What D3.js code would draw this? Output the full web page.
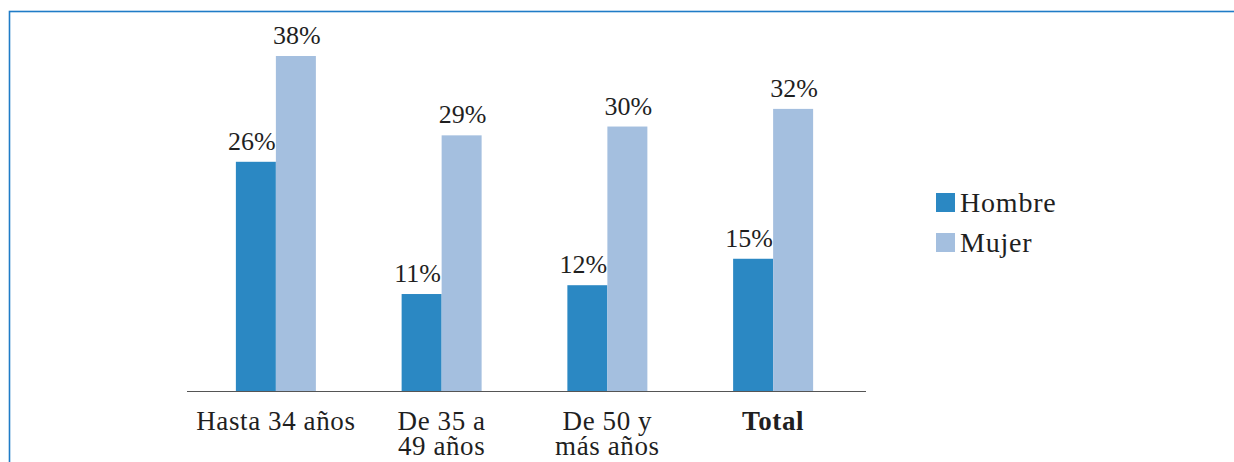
<!DOCTYPE html>
<html lang="es">
<head>
<meta charset="UTF-8">
<title>Hombre / Mujer por edad</title>
<script src="https://d3js.org/d3.v7.min.js"></script>
<style>
  body { margin: 0; background: #fff; }
  svg { display: block; }
  text { font-family: "Liberation Serif", "DejaVu Serif", serif; fill: #1f1f1f; }
</style>
</head>
<body>
<svg width="1234" height="462"></svg>
<script>
const categories = [["Hasta 34 años"], ["De 35 a", "49 años"], ["De 50 y", "más años"], ["Total"]];
const series = ["Hombre", "Mujer"];
const hombre = [26, 11, 12, 15];
const mujer = [38, 29, 30, 32];
const colors = ["#2b88c3", "#a4bfdf"];

const svg = d3.select("svg");

// blue frame, runs off the right and bottom edge
svg.append("rect")
  .attr("x", 9.5).attr("y", 11.5)
  .attr("width", 1300).attr("height", 600)
  .attr("fill", "none")
  .attr("stroke", "#1f7cc7")
  .attr("stroke-width", 1.6);

const baseY = 391;
const x = d3.scaleBand().domain(d3.range(categories.length)).range([193, 856]);
const inner = d3.scaleBand().domain(series).range([x.bandwidth() / 2 - 40, x.bandwidth() / 2 + 40]);
const y = d3.scaleLinear().domain([0, 38]).range([baseY, 56]);

const data = series.map((s, si) => ({
  name: s,
  color: colors[si],
  values: (si === 0 ? hombre : mujer),
  shift: si === 0 ? -4 : 1
}));

const groups = svg.selectAll("g.cat")
  .data(categories)
  .join("g")
  .attr("class", "cat")
  .attr("transform", (d, i) => `translate(${x(i)},0)`);

groups.each(function(cat, i) {
  const g = d3.select(this);
  data.forEach(s => {
    const v = s.values[i];
    g.append("rect")
      .attr("x", inner(s.name))
      .attr("y", y(v))
      .attr("width", inner.bandwidth())
      .attr("height", baseY - y(v))
      .attr("fill", s.color);
    g.append("text")
      .attr("x", inner(s.name) + inner.bandwidth() / 2 + s.shift)
      .attr("y", y(v) - 12)
      .attr("text-anchor", "middle")
      .attr("font-size", 26)
      .text(v + "%");
  });
  const t = g.append("text")
    .attr("x", x.bandwidth() / 2)
    .attr("y", 430)
    .attr("text-anchor", "middle")
    .attr("font-size", 27)
    .attr("letter-spacing", 0.6)
    .attr("font-weight", i === categories.length - 1 ? "bold" : "normal");
  cat.forEach((line, li) => {
    t.append("tspan")
      .attr("x", x.bandwidth() / 2)
      .attr("dy", li === 0 ? 0 : 25)
      .text(line);
  });
});

// baseline
svg.append("line")
  .attr("x1", 187).attr("x2", 866)
  .attr("y1", baseY + 0.5).attr("y2", baseY + 0.5)
  .attr("stroke", "#555")
  .attr("stroke-width", 1.2);

// legend
const legend = svg.append("g").attr("transform", "translate(936,193)");
data.forEach((s, i) => {
  legend.append("rect")
    .attr("x", 0).attr("y", i * 40)
    .attr("width", 19).attr("height", 19)
    .attr("fill", s.color);
  legend.append("text")
    .attr("x", 24).attr("y", i * 40 + 19)
    .attr("font-size", 28)
    .attr("letter-spacing", 0.8)
    .text(s.name);
});
</script>
</body>
</html>
